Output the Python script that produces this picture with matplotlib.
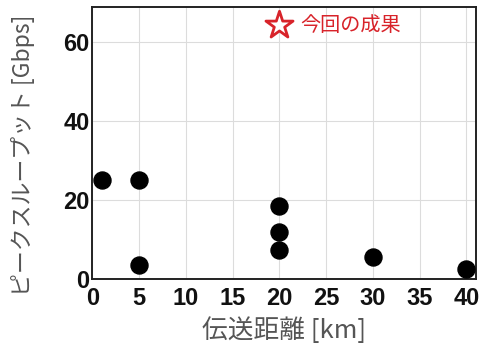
import matplotlib
matplotlib.use("Agg")
import matplotlib.pyplot as plt

plt.rcParams['font.family'] = ['Noto Sans CJK JP', 'DejaVu Sans']

# Transmission distance [km] and peak throughput [Gbps] of earlier reports
distance_km = [1, 5, 5, 20, 20, 20, 30, 40]
throughput_gbps = [25, 25, 3.7, 18.5, 12, 7.5, 5.6, 2.5]

# This work
this_distance = [20]
this_throughput = [64.3]
this_label = "今回の成果"

x_ticks = [0, 5, 10, 15, 20, 25, 30, 35, 40]
y_ticks = [0, 20, 40, 60]

fig = plt.figure(figsize=(4.84, 3.52), dpi=100)
ax = fig.add_axes([0.191, 0.207, 0.792, 0.772])

ax.scatter(distance_km, throughput_gbps, s=150, color='black', zorder=3,
           clip_on=False)
ax.scatter(this_distance, this_throughput, s=420, marker='*',
           facecolor='white', edgecolor='#d8232a', linewidth=2.0, zorder=3)
ax.text(this_distance[0] + 2.2, this_throughput[0], this_label,
        color='#d8232a', fontsize=14.5, va='center', ha='left')

ax.set_xlim(0, 41)
ax.set_ylim(0, 68.8)
ax.set_xticks(x_ticks)
ax.set_yticks(y_ticks)
ax.grid(True, color='#dcdcdc', linewidth=0.8, zorder=0)
ax.set_axisbelow(True)

for lbl in ax.get_xticklabels() + ax.get_yticklabels():
    lbl.set_fontfamily('Liberation Sans')
    lbl.set_fontweight('bold')
    lbl.set_fontsize(17)
ax.tick_params(axis='both', length=0, colors='#111111')
ax.tick_params(axis='x', pad=6)
ax.tick_params(axis='y', pad=2)

for side in ['top', 'right', 'left', 'bottom']:
    ax.spines[side].set_linewidth(1.4)
    ax.spines[side].set_color('#222222')

ax.set_xlabel("伝送距離 [km]", fontsize=18.5, color='#555555', labelpad=5)
ax.set_ylabel("ピークスループット [Gbps]", fontsize=16.5, color='#555555')
ax.yaxis.set_label_coords(-0.15, 0.455)

fig.savefig("out.png", dpi=100)
